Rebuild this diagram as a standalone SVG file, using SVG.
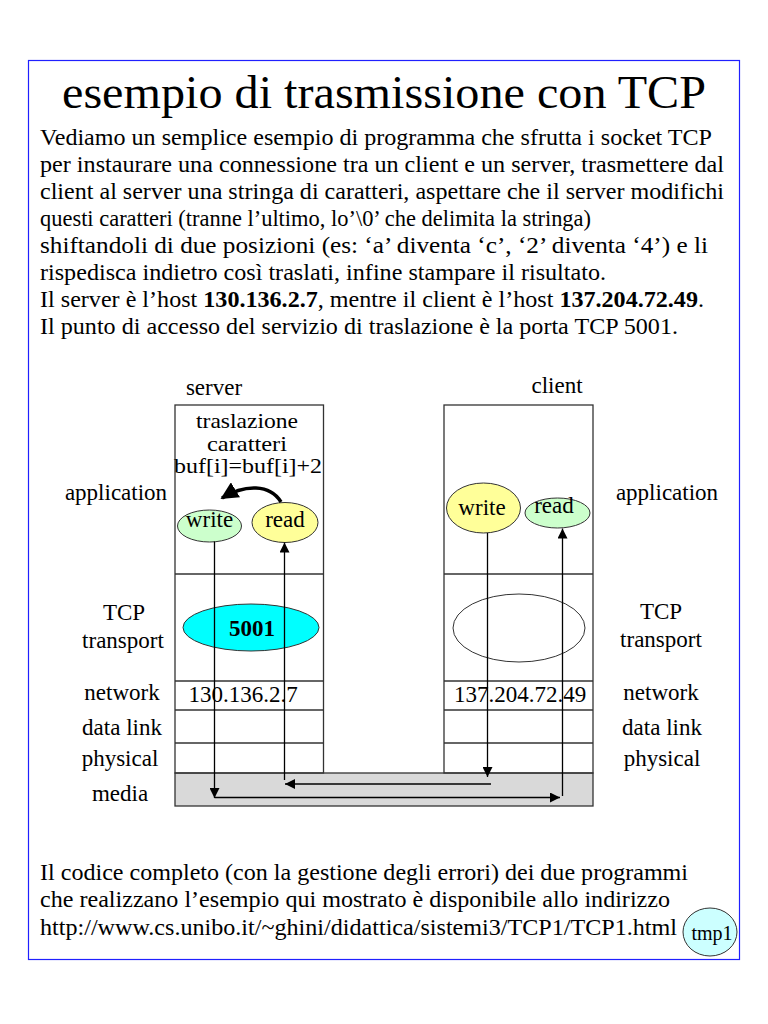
<svg xmlns="http://www.w3.org/2000/svg" width="768" height="1024" viewBox="0 0 768 1024">
<style>
text{font-family:"Liberation Serif","Times New Roman",serif;fill:#000}
.p{font-size:23px}
.d{font-size:23px}
.t{font-size:21px}
.ln{stroke:#333;stroke-width:1.3;fill:none}
.ar{stroke:#000;stroke-width:1.3;fill:none}
</style>
<defs>
<marker id="ah" viewBox="0 0 10 10" refX="10" refY="5" markerWidth="10" markerHeight="10" markerUnits="userSpaceOnUse" orient="auto">
<path d="M0,0 L10,5 L0,10 z" fill="#000"/>
</marker>
<marker id="ahb" viewBox="0 0 10 10" refX="9" refY="5" markerWidth="5" markerHeight="5" orient="auto">
<path d="M0,0 L10,5 L0,10 z" fill="#000"/>
</marker>
</defs>
<rect width="768" height="1024" fill="#fff"/>
<rect x="28.5" y="60.5" width="711" height="899" fill="none" stroke="#2020ff" stroke-width="1.2"/>
<g id="title">
<text x="62" y="108" font-size="47" textLength="644" lengthAdjust="spacingAndGlyphs">esempio di trasmissione con TCP</text>
</g>
<g id="intro">
<text class="p" x="40" y="145" textLength="672" lengthAdjust="spacingAndGlyphs">Vediamo un semplice esempio di programma che sfrutta i socket TCP</text>
<text class="p" x="40" y="172" textLength="684" lengthAdjust="spacingAndGlyphs">per instaurare una connessione tra un client e un server, trasmettere dal</text>
<text class="p" x="40" y="199" textLength="684" lengthAdjust="spacingAndGlyphs">client al server una stringa di caratteri, aspettare che il server modifichi</text>
<text class="p" x="40" y="226" textLength="551" lengthAdjust="spacingAndGlyphs">questi caratteri (tranne l’ultimo, lo’\0’ che delimita la stringa)</text>
<text class="p" x="40" y="253" textLength="668" lengthAdjust="spacingAndGlyphs">shiftandoli di due posizioni (es: ‘a’ diventa ‘c’, ‘2’ diventa ‘4’) e li</text>
<text class="p" x="40" y="280" textLength="566" lengthAdjust="spacingAndGlyphs">rispedisca indietro così traslati, infine stampare il risultato.</text>
<text class="p" x="40" y="307" textLength="664" lengthAdjust="spacingAndGlyphs">Il server è l’host <tspan font-weight="bold">130.136.2.7</tspan>, mentre il client è l’host <tspan font-weight="bold">137.204.72.49</tspan>.</text>
<text class="p" x="40" y="334" textLength="638" lengthAdjust="spacingAndGlyphs">Il punto di accesso del servizio di traslazione è la porta TCP 5001.</text>
</g>
<g id="media">
<rect x="175" y="773" width="418" height="33" fill="#d9d9d9" stroke="#333" stroke-width="1.3"/>
</g>
<g id="server-stack">
<rect x="175" y="405" width="148.5" height="368" fill="#fff" class="ln"/>
<line class="ln" x1="175" y1="574" x2="323.5" y2="574"/>
<line class="ln" x1="175" y1="681" x2="323.5" y2="681"/>
<line class="ln" x1="175" y1="710" x2="323.5" y2="710"/>
<line class="ln" x1="175" y1="743" x2="323.5" y2="743"/>
<text class="d" x="214" y="395" text-anchor="middle">server</text>
<text class="t" x="196" y="428" textLength="102" lengthAdjust="spacingAndGlyphs">traslazione</text>
<text class="t" x="207" y="451" textLength="80" lengthAdjust="spacingAndGlyphs">caratteri</text>
<text class="t" x="174" y="473" textLength="148" lengthAdjust="spacingAndGlyphs">buf[i]=buf[i]+2</text>
<text class="d" x="243" y="702" text-anchor="middle">130.136.2.7</text>
</g>
<g id="client-stack">
<rect x="444" y="405" width="149" height="368" fill="#fff" class="ln"/>
<line class="ln" x1="444" y1="574" x2="593" y2="574"/>
<line class="ln" x1="444" y1="681" x2="593" y2="681"/>
<line class="ln" x1="444" y1="710" x2="593" y2="710"/>
<line class="ln" x1="444" y1="743" x2="593" y2="743"/>
<text class="d" x="557" y="393" text-anchor="middle">client</text>
<text class="d" x="520" y="702" text-anchor="middle">137.204.72.49</text>
</g>
<g id="layer-labels">
<text class="d" x="116" y="500" text-anchor="middle">application</text>
<text class="d" x="124" y="620" text-anchor="middle">TCP</text>
<text class="d" x="123" y="648" text-anchor="middle">transport</text>
<text class="d" x="122" y="700" text-anchor="middle">network</text>
<text class="d" x="122" y="735" text-anchor="middle">data link</text>
<text class="d" x="120" y="766" text-anchor="middle">physical</text>
<text class="d" x="120" y="801" text-anchor="middle">media</text>
<text class="d" x="667" y="500" text-anchor="middle">application</text>
<text class="d" x="661" y="619" text-anchor="middle">TCP</text>
<text class="d" x="661" y="647" text-anchor="middle">transport</text>
<text class="d" x="661" y="700" text-anchor="middle">network</text>
<text class="d" x="662" y="735" text-anchor="middle">data link</text>
<text class="d" x="662" y="766" text-anchor="middle">physical</text>
</g>
<g id="server-write">
<ellipse cx="209.5" cy="526" rx="32" ry="16" fill="#ccffcc" stroke="#333" stroke-width="1"/>
<text class="d" x="209.5" y="527" text-anchor="middle" font-size="22">write</text>
</g>
<g id="server-read">
<ellipse cx="285" cy="522.5" rx="33" ry="20" fill="#ffff99" stroke="#333" stroke-width="1"/>
<text class="d" x="285" y="527" text-anchor="middle">read</text>
</g>
<g id="port-5001">
<ellipse cx="251" cy="627.5" rx="68" ry="23.5" fill="#00ffff" stroke="#333" stroke-width="1"/>
<text class="d" x="252" y="636" text-anchor="middle" font-weight="bold">5001</text>
</g>
<g id="client-write">
<ellipse cx="483.5" cy="508" rx="37" ry="25" fill="#ffff99" stroke="#333" stroke-width="1"/>
<text class="d" x="482" y="515" text-anchor="middle">write</text>
</g>
<g id="client-read">
<ellipse cx="557.5" cy="513" rx="32.5" ry="15" fill="#ccffcc" stroke="#333" stroke-width="1"/>
<text class="d" x="554" y="513" text-anchor="middle">read</text>
</g>
<g id="client-socket">
<ellipse cx="519" cy="628" rx="66" ry="34" fill="#fff" stroke="#333" stroke-width="1"/>
</g>
<g id="connectors">
<line class="ar" x1="214.5" y1="541.5" x2="214.5" y2="798" marker-end="url(#ah)"/>
<line class="ar" x1="214.5" y1="797.5" x2="560" y2="797.5" marker-end="url(#ah)"/>
<line class="ar" x1="562.5" y1="796" x2="562.5" y2="528.5" marker-end="url(#ah)"/>
<line class="ar" x1="487.5" y1="533" x2="487.5" y2="777" marker-end="url(#ah)"/>
<line class="ar" x1="491" y1="784" x2="285" y2="784" marker-end="url(#ah)"/>
<line class="ar" x1="284.5" y1="780" x2="284.5" y2="542.5" marker-end="url(#ah)"/>
<path d="M281,502 C270,484 245,484 222,498" stroke="#000" stroke-width="3.5" fill="none" marker-end="url(#ahb)"/>
</g>
<g id="footer">
<text class="p" x="40" y="880" textLength="648" lengthAdjust="spacingAndGlyphs">Il codice completo (con la gestione degli errori) dei due programmi</text>
<text class="p" x="40" y="907" textLength="630" lengthAdjust="spacingAndGlyphs">che realizzano l’esempio qui mostrato è disponibile allo indirizzo</text>
<text class="p" x="40" y="935" textLength="637" lengthAdjust="spacingAndGlyphs">http://www.cs.unibo.it/~ghini/didattica/sistemi3/TCP1/TCP1.html</text>
</g>
<g id="tmp1">
<ellipse cx="710" cy="932" rx="27" ry="24" fill="#ccffff" stroke="#333" stroke-width="1"/>
<text x="712" y="940" font-size="20" text-anchor="middle">tmp1</text>
</g>
</svg>
